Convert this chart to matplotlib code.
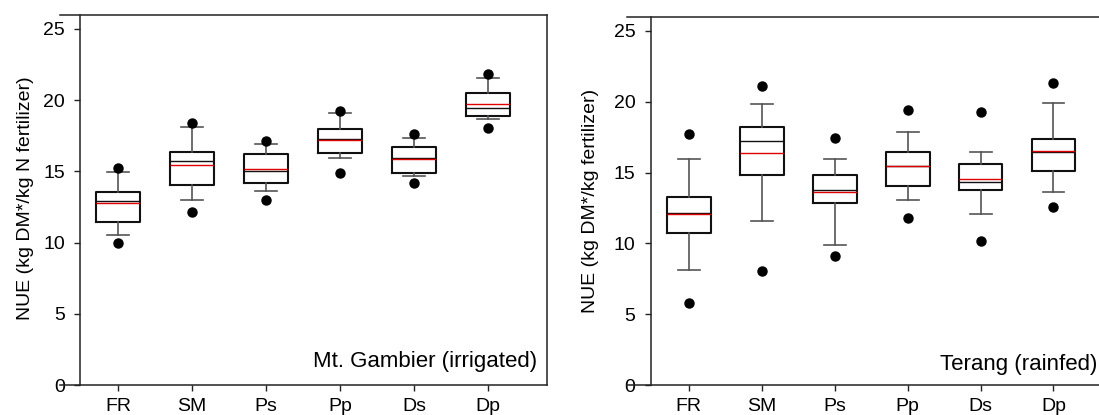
import matplotlib
matplotlib.use("Agg")
import matplotlib.pyplot as plt

plt.rcParams['font.family'] = ['Liberation Sans', 'DejaVu Sans']

categories = ["FR", "SM", "Ps", "Pp", "Ds", "Dp"]

# Mt. Gambier (irrigated)
mg_q1 = [11.45, 14.04, 14.19, 16.32, 14.87, 18.91]
mg_med = [12.92, 15.75, 15.05, 17.25, 15.96, 19.43]
mg_q3 = [13.55, 16.38, 16.20, 17.95, 16.71, 20.48]
mg_mean = [12.76, 15.45, 15.19, 17.22, 15.89, 19.71]
mg_whislo = [10.51, 12.97, 13.65, 15.96, 14.68, 18.66]
mg_whishi = [14.93, 18.14, 16.95, 19.12, 17.35, 21.58]
mg_out_lo = [9.99, 12.17, 12.99, 14.91, 14.21, 18.03]
mg_out_hi = [15.26, 18.40, 17.13, 19.24, 17.61, 21.86]

# Terang (rainfed)
tr_q1 = [10.75, 14.82, 12.82, 14.02, 13.76, 15.08]
tr_med = [12.12, 17.24, 13.78, 15.45, 14.30, 16.46]
tr_q3 = [13.25, 18.23, 14.82, 16.42, 15.62, 17.34]
tr_mean = [12.09, 16.35, 13.62, 15.43, 14.54, 16.49]
tr_whislo = [8.09, 11.55, 9.90, 13.03, 12.07, 13.60]
tr_whishi = [15.97, 19.85, 15.97, 17.88, 16.46, 19.90]
tr_out_lo = [5.79, 8.07, 9.10, 11.79, 10.18, 12.54]
tr_out_hi = [17.74, 21.08, 17.45, 19.43, 19.27, 21.31]

yticks = [0, 5, 10, 15, 20, 25]

W, H = 1099, 415
fig = plt.figure(figsize=(W / 100, H / 100), dpi=100)


def make_stats(q1, med, q3, mean, wlo, whi, olo, ohi):
    stats = []
    for i in range(len(q1)):
        stats.append(dict(q1=q1[i], med=med[i], q3=q3[i], mean=mean[i],
                          whislo=wlo[i], whishi=whi[i],
                          fliers=[olo[i], ohi[i]], label=categories[i]))
    return stats


def panel(rect_px, xlim, spine_x, stats, ylabel, note, note_x, note_y,
          show_right):
    l, r, t, b = rect_px
    ax = fig.add_axes([l / W, (H - b) / H, (r - l) / W, (b - t) / H])
    pos = list(range(1, len(categories) + 1))
    ax.bxp(stats, positions=pos, widths=0.6, showmeans=True, meanline=True,
           showfliers=True,
           boxprops=dict(color='#111111', linewidth=1.5),
           whiskerprops=dict(color='#555555', linewidth=1.2),
           capprops=dict(color='#555555', linewidth=1.2),
           medianprops=dict(color='#111111', linewidth=1.0),
           meanprops=dict(color='#e00000', linestyle='-', linewidth=1.0),
           flierprops=dict(marker='o', markerfacecolor='black',
                           markeredgecolor='black', markersize=6.5))
    ax.set_xlim(*xlim)
    ax.set_ylim(0, 26)
    ax.set_yticks(yticks)
    ax.set_xticks(pos)
    ax.set_xticklabels(categories)
    ax.spines['left'].set_position(('data', spine_x))
    ax.spines['right'].set_visible(show_right)
    for s in ax.spines.values():
        s.set_color('#222222')
        s.set_linewidth(1.1)
    ax.tick_params(direction='out', length=4, width=1, labelsize=14,
                   colors='#222222', labelcolor='black')
    ax.tick_params(axis='y', pad=7)
    ax.tick_params(axis='x', pad=5)
    ax.set_ylabel(ylabel, fontsize=14)
    ax.text(note_x, note_y, note, transform=ax.transAxes, ha='right',
            va='baseline', fontsize=16)
    return ax


ax1 = panel((60, 546.7, 14.7, 385), (0.214, 6.792), 0.488,
            make_stats(mg_q1, mg_med, mg_q3, mg_mean, mg_whislo, mg_whishi,
                       mg_out_lo, mg_out_hi),
            "NUE (kg DM*/kg N fertilizer)", "Mt. Gambier (irrigated)",
            0.980, 0.049, True)

ax2 = panel((627, 1106, 16.7, 385), (0.152, 6.72), 0.475,
            make_stats(tr_q1, tr_med, tr_q3, tr_mean, tr_whislo, tr_whishi,
                       tr_out_lo, tr_out_hi),
            "NUE (kg DM*/kg fertilizer)", "Terang (rainfed)",
            0.981, 0.042, False)

# y labels: anchor (right edge after rotation) at measured pixel positions
ax1.yaxis.set_label_coords((34 - 60) / 486.7, (385 - 198) / 370.3)
ax2.yaxis.set_label_coords((599 - 627) / 479, (385 - 201) / 368.3)

fig.savefig("out.png", dpi=100)
